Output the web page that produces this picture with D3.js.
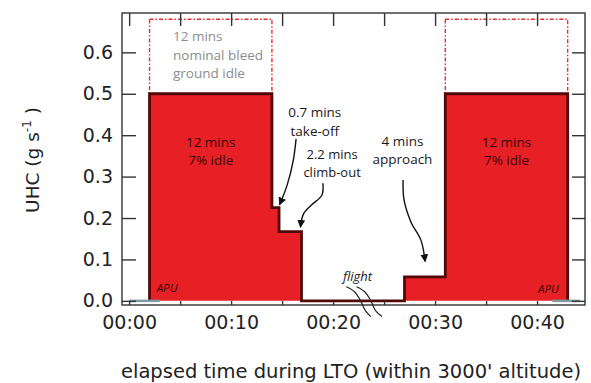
<!DOCTYPE html>
<html>
<head>
<meta charset="utf-8">
<script src="https://cdn.jsdelivr.net/npm/d3@7"></script>
<style>
  body { margin: 0; background: #fff; }
  svg { display: block; }
</style>
</head>
<body>
<div id="chart"></div>
<script>
// LTO phases (minutes) and UHC emission rate (g/s)
let phaseNames = ['idle', 'take-off', 'climb-out', 'flight', 'approach', 'idle']
let phaseStart = [2, 14, 14.7, 16.9, 27, 31]
let phaseEnd = [14, 14.7, 16.9, 27, 31, 43]
let uhcRate = [0.5, 0.225, 0.167, 0, 0.058, 0.5]

// nominal bleed ground idle boxes
let nominalStart = [2, 31]
let nominalEnd = [14, 43]
let nominalTop = 0.68

// APU periods (shown at zero)
let apuStart = [0, 41.5]
let apuEnd = [3, 44.2]

let xTicks = [0, 10, 20, 30, 40]
let xTickLabels = ['00:00', '00:10', '00:20', '00:30', '00:40']
let xMinorTicks = [0, 5, 10, 15, 20, 25, 30, 35, 40]
let yTicks = [0, 0.1, 0.2, 0.3, 0.4, 0.5, 0.6]

let svgWidth = 591
let svgHeight = 383
let margin = { top: 13, right: 6, bottom: 78, left: 122 }
let width = svgWidth - margin.left - margin.right
let height = svgHeight - margin.top - margin.bottom

let svg = d3.select('#chart').append('svg')
    .attr('width', svgWidth)
    .attr('height', svgHeight)

let defs = svg.append('defs')
defs.append('marker')
    .attr('id', 'arrow')
    .attr('viewBox', '0 0 10 10')
    .attr('refX', 9).attr('refY', 5)
    .attr('markerWidth', 8).attr('markerHeight', 8)
    .attr('markerUnits', 'userSpaceOnUse')
    .attr('orient', 'auto')
    .append('path')
    .attr('d', 'M0,0 L10,5 L0,10 Z')
    .style('fill', '#111')

let g = svg.append('g')
    .attr('transform', 'translate(' + margin.left + ',' + margin.top + ')')

let xScale = d3.scaleLinear().domain([-0.7, 44.7]).range([0, width])
let yScale = d3.scaleLinear().domain([-0.01, 0.695]).range([height, 0])

// nominal bleed boxes
g.append('g').attr('class', 'nominal')
    .selectAll('rect')
    .data(nominalStart)
    .enter()
    .append('rect')
    .attr('x', (d) => xScale(d))
    .attr('y', yScale(nominalTop))
    .attr('width', (d, i) => xScale(nominalEnd[i]) - xScale(d))
    .attr('height', yScale(uhcRate[0]) - yScale(nominalTop))
    .style('fill', 'none')
    .style('stroke', '#ec2a30')
    .style('stroke-width', 1.4)
    .style('stroke-dasharray', '4,2,1.5,2')

// step profile
let pts = [[phaseStart[0], 0]]
uhcRate.forEach((v, i) => pts.push([phaseStart[i], v]))
pts.push([phaseEnd[phaseEnd.length - 1], uhcRate[uhcRate.length - 1]])
pts.push([phaseEnd[phaseEnd.length - 1], 0])

let stepLine = d3.line()
    .x((d) => xScale(d[0]))
    .y((d) => yScale(d[1]))
    .curve(d3.curveStepAfter)

g.append('path')
    .attr('d', stepLine(pts) + 'Z')
    .style('fill', '#e62024')
    .style('stroke', 'none')

g.append('path')
    .attr('d', stepLine(pts))
    .style('fill', 'none')
    .style('stroke', '#520808')
    .style('stroke-width', 2.8)

// APU bars
g.append('g').selectAll('line')
    .data(apuStart)
    .enter()
    .append('line')
    .attr('x1', (d) => xScale(d))
    .attr('x2', (d, i) => xScale(apuEnd[i]))
    .attr('y1', yScale(0))
    .attr('y2', yScale(0))
    .style('stroke', '#7f9aa3')
    .style('stroke-width', 2.5)

// frame + ticks
let tickColor = '#333'
g.append('rect')
    .attr('width', width).attr('height', height)
    .style('fill', 'none')
    .style('stroke', tickColor)
    .style('stroke-width', 1.4)

g.append('g').attr('class', 'y-axis')
    .call(d3.axisLeft(yScale).tickValues(yTicks).tickFormat(d3.format('.1f')).tickSizeInner(-14).tickSizeOuter(0).tickPadding(9))
g.append('g').attr('class', 'y-axis-right')
    .attr('transform', 'translate(' + width + ',0)')
    .call(d3.axisRight(yScale).tickValues(yTicks).tickFormat('').tickSizeInner(-13).tickSizeOuter(0))
g.append('g').attr('class', 'x-axis-top')
    .call(d3.axisTop(xScale).tickValues(xMinorTicks).tickFormat('').tickSizeInner(-13).tickSizeOuter(0))
g.append('g').attr('class', 'x-axis-minor')
    .attr('transform', 'translate(0,' + height + ')')
    .call(d3.axisBottom(xScale).tickValues(xMinorTicks).tickFormat('').tickSizeInner(-4).tickSizeOuter(0))
g.append('g').attr('class', 'x-axis')
    .attr('transform', 'translate(0,' + height + ')')
    .call(d3.axisBottom(xScale).tickValues(xTicks).tickFormat((d, i) => xTickLabels[i]).tickSize(0).tickPadding(11))

g.selectAll('.domain').remove()
g.selectAll('.tick line').style('stroke', tickColor).style('stroke-width', 1.4)
g.selectAll('.tick text')
    .style('font-family', '"DejaVu Sans", sans-serif')
    .style('font-size', '19px')
    .style('fill', '#222')

// axis titles
svg.append('text')
    .attr('transform', 'translate(39,' + (margin.top + 147) + ') rotate(-90)')
    .style('font-family', '"DejaVu Sans", sans-serif')
    .style('font-size', '18.5px')
    .style('fill', '#222')
    .attr('text-anchor', 'middle')
    .call((t) => {
        t.append('tspan').text('UHC (g s')
        t.append('tspan').attr('dy', -8).style('font-size', '12px').text('-1')
        t.append('tspan').attr('dy', 8).text(' )')
    })

svg.append('text')
    .attr('x', 351)
    .attr('y', 378)
    .attr('text-anchor', 'middle')
    .style('font-family', '"DejaVu Sans", sans-serif')
    .style('font-size', '19.5px')
    .style('fill', '#222')
    .text('elapsed time during LTO (within 3000\' altitude)')

// annotations
let annoFont = '"Open Sans", sans-serif'
function label (lines, t, v, opts) {
    opts = opts || {}
    let txt = g.append('text')
        .attr('text-anchor', opts.anchor || 'middle')
        .style('font-family', annoFont)
        .style('font-size', (opts.size || 13.5) + 'px')
        .style('font-style', opts.italic ? 'italic' : 'normal')
        .style('fill', opts.color || '#1a1a1a')
    lines.forEach((s, i) => {
        txt.append('tspan')
            .attr('x', xScale(t))
            .attr('y', yScale(v) + i * (opts.lh || 18.5))
            .text(s)
    })
}

label(['12 mins', '7% idle'], 8, 0.372, { color: '#3a0606' })
label(['12 mins', '7% idle'], 37, 0.372, { color: '#3a0606' })
label(['12 mins', 'nominal bleed', 'ground idle'], 4.3, 0.627, { anchor: 'start', color: '#8c8c8c', lh: 18.5, size: 13.5 })
label(['0.7 mins', 'take-off'], 18.2, 0.443)
label(['2.2 mins', 'climb-out'], 19.9, 0.343, { size: 13, lh: 18 })
label(['4 mins', 'approach'], 26.8, 0.374)
label(['flight'], 22.4, 0.048, { italic: true, size: 13 })
label(['APU'], 2.7, 0.022, { anchor: 'start', italic: true, size: 11.5, color: '#3a0606' })
label(['APU'], 40.1, 0.02, { anchor: 'start', italic: true, size: 11.5, color: '#3a0606' })

// curved arrows (data units)
let takeoffArrow = [[16.37, 0.391], [16.1, 0.34], [15.5, 0.28], [14.75, 0.232]]
let climbArrow = [[19.0, 0.284], [18.9, 0.255], [17.9, 0.232], [17.1, 0.21], [16.8, 0.178]]
let approachArrow = [[26.86, 0.292], [26.96, 0.243], [27.64, 0.19], [28.62, 0.146], [29.02, 0.095]]
let breakA = [[21.3, 0.034], [22.1, 0.022], [22.7, 0.0], [23.2, -0.025], [23.7, -0.038]]
let breakB = [[22.3, 0.034], [23.1, 0.022], [23.7, 0.0], [24.2, -0.025], [24.8, -0.038]]

let curve = d3.line()
    .x((d) => xScale(d[0]))
    .y((d) => yScale(d[1]))
    .curve(d3.curveCatmullRom)

;[takeoffArrow, climbArrow, approachArrow].forEach((a) => {
    g.append('path')
        .attr('d', curve(a))
        .style('fill', 'none')
        .style('stroke', '#111')
        .style('stroke-width', 1.4)
        .attr('marker-end', 'url(#arrow)')
})
;[breakA, breakB].forEach((a) => {
    g.append('path')
        .attr('d', curve(a))
        .style('fill', 'none')
        .style('stroke', '#222')
        .style('stroke-width', 1.2)
})
</script>
</body>
</html>
